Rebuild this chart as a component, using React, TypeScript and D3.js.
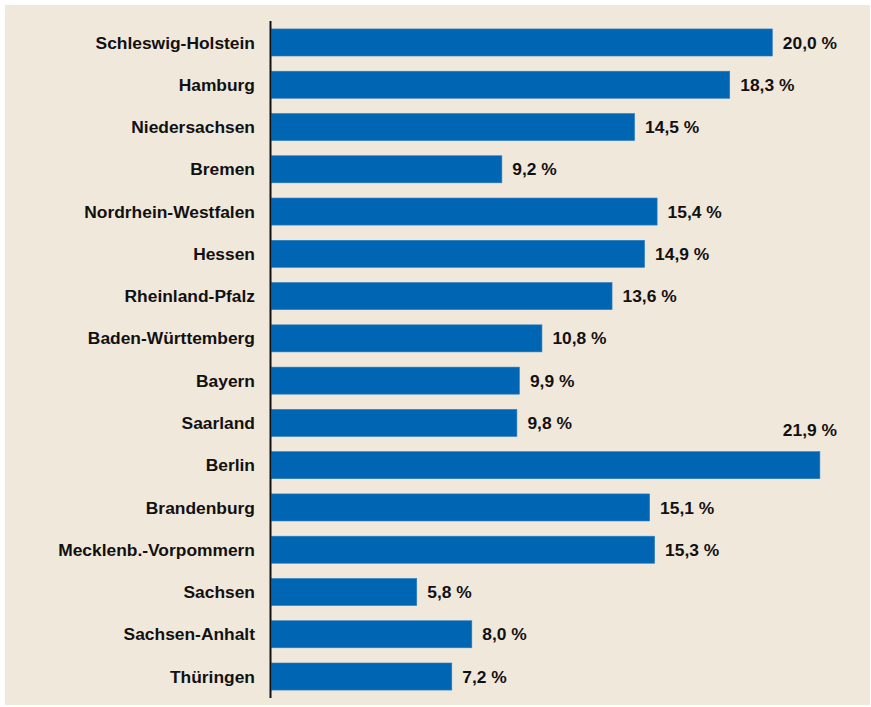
import React from "react";
import * as d3 from "d3";

const categories = [
  "Schleswig-Holstein",
  "Hamburg",
  "Niedersachsen",
  "Bremen",
  "Nordrhein-Westfalen",
  "Hessen",
  "Rheinland-Pfalz",
  "Baden-Württemberg",
  "Bayern",
  "Saarland",
  "Berlin",
  "Brandenburg",
  "Mecklenb.-Vorpommern",
  "Sachsen",
  "Sachsen-Anhalt",
  "Thüringen",
];
const values = [20.0, 18.3, 14.5, 9.2, 15.4, 14.9, 13.6, 10.8, 9.9, 9.8, 21.9, 15.1, 15.3, 5.8, 8.0, 7.2];
const labelCap = 20;

const W = 871;
const H = 707;
const FONT = "'Liberation Sans', Arial, sans-serif";

export default function App() {
  const x = d3.scaleLinear().domain([0, 22]).range([271.5, 271.5 + 22 * 25.04]);
  const y = d3
    .scaleBand<string>()
    .domain(categories)
    .range([21, 698])
    .paddingInner(0.36)
    .paddingOuter(0.188);
  const fmt = (v: number) => v.toFixed(1).replace(".", ",") + " %";
  const bw = y.bandwidth();
  return (
    <svg
      width={W}
      height={H}
      style={{ position: "absolute", left: 0, top: 0, display: "block" }}
    >
      <rect x={0} y={0} width={W} height={H} fill="#ffffff" />
      <rect x={5} y={5} width={865} height={700} fill="#f1e8dc" />
      {categories.map((c, i) => {
        const v = values[i];
        const yc = (y(c) as number) + bw / 2;
        const clamped = v > labelCap;
        const lx = x(Math.min(v, labelCap)) + 10.5;
        const ly = clamped ? yc - 35 : yc;
        return (
          <g key={c}>
            <rect
              x={x(0)}
              y={y(c)}
              width={x(v) - x(0)}
              height={bw}
              fill="#0066b3"
              stroke="#2a7cc0"
              strokeWidth={0.6}
            />
            <text
              x={255}
              y={yc}
              dy="0.35em"
              textAnchor="end"
              fontFamily={FONT}
              fontWeight="bold"
              fontSize={17.4}
              fill="#111"
            >
              {c}
            </text>
            <text
              x={lx}
              y={ly}
              dy="0.35em"
              textAnchor="start"
              fontFamily={FONT}
              fontWeight="bold"
              fontSize={17.4}
              fill="#111"
            >
              {fmt(v)}
            </text>
          </g>
        );
      })}
      <line x1={270.5} x2={270.5} y1={21} y2={698} stroke="#111" strokeWidth={2} />
    </svg>
  );
}
